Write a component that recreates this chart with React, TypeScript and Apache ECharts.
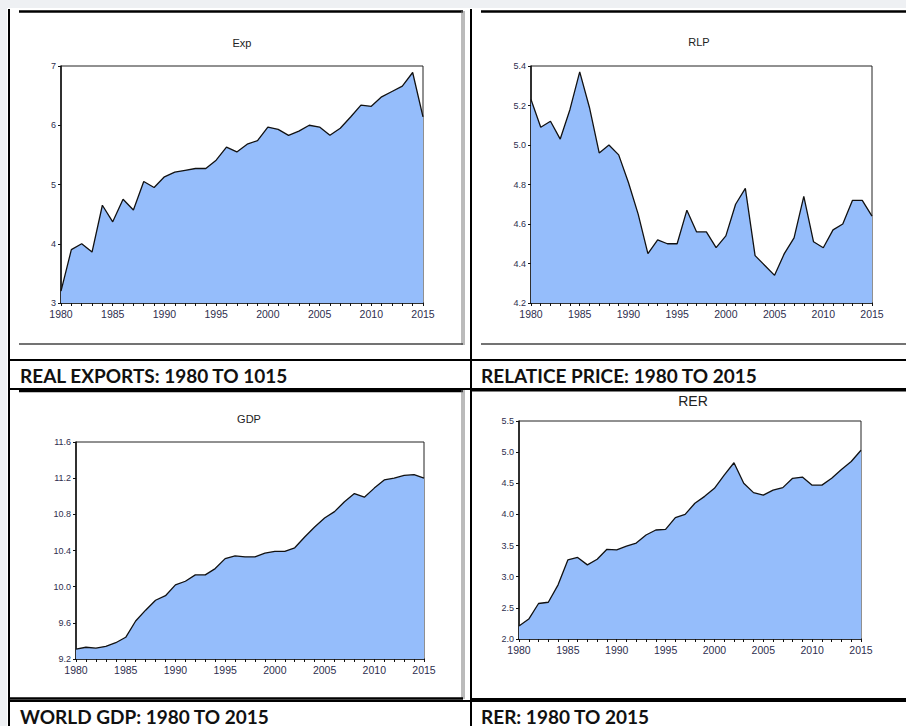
import React, { useEffect, useRef } from "react";
import * as echarts from "echarts";

const years = [
  "1980","1981","1982","1983","1984","1985","1986","1987","1988","1989",
  "1990","1991","1992","1993","1994","1995","1996","1997","1998","1999",
  "2000","2001","2002","2003","2004","2005","2006","2007","2008","2009",
  "2010","2011","2012","2013","2014","2015",
];

const expValues = [
  3.2, 3.9, 4.0, 3.86, 4.65, 4.37, 4.75, 4.57, 5.05, 4.95,
  5.13, 5.21, 5.24, 5.27, 5.27, 5.41, 5.63, 5.55, 5.68, 5.74,
  5.97, 5.93, 5.83, 5.9, 6.0, 5.97, 5.83, 5.95, 6.14, 6.34,
  6.32, 6.48, 6.57, 6.66, 6.89, 6.14,
];

const rlpValues = [
  5.23, 5.09, 5.12, 5.03, 5.18, 5.37, 5.19, 4.96, 5.0, 4.95,
  4.81, 4.65, 4.45, 4.52, 4.5, 4.5, 4.67, 4.56, 4.56, 4.48,
  4.54, 4.7, 4.78, 4.44, 4.39, 4.34, 4.45, 4.53, 4.74, 4.51,
  4.48, 4.57, 4.6, 4.72, 4.72, 4.64,
];

const gdpValues = [
  9.31, 9.33, 9.32, 9.34, 9.38, 9.44, 9.62, 9.74, 9.85, 9.9,
  10.02, 10.06, 10.13, 10.13, 10.2, 10.31, 10.34, 10.33, 10.33, 10.37,
  10.39, 10.39, 10.43, 10.55, 10.66, 10.76, 10.83, 10.94, 11.03, 10.99,
  11.09, 11.18, 11.2, 11.23, 11.24, 11.2,
];

const rerValues = [
  2.21, 2.32, 2.57, 2.59, 2.87, 3.27, 3.31, 3.19, 3.28, 3.44,
  3.43, 3.49, 3.54, 3.67, 3.75, 3.76, 3.95, 4.0, 4.18, 4.29,
  4.42, 4.63, 4.83, 4.5, 4.35, 4.31, 4.39, 4.43, 4.58, 4.6,
  4.47, 4.47, 4.58, 4.72, 4.85, 5.03,
];

const chartTitles = ["Exp", "RLP", "GDP", "RER"];
const captions = [
  "REAL EXPORTS: 1980 TO 1015",
  "RELATICE PRICE: 1980 TO 2015",
  "WORLD GDP: 1980 TO 2015",
  "RER: 1980 TO 2015",
];

const FILL = "#95bdfb";
const LABEL = "#2e2e4e";
const FONT = "Liberation Sans, Arial, sans-serif";

export default function App() {
  const ref = useRef<HTMLDivElement>(null);

  useEffect(() => {
    if (!ref.current) return;
    const chart = echarts.init(ref.current, undefined, { renderer: "svg" });

    const grids = [
      { left: 61, top: 66, width: 362, height: 237 },
      { left: 531, top: 66, width: 341, height: 237 },
      { left: 76, top: 442, width: 348, height: 217 },
      { left: 519, top: 421, width: 342, height: 218 },
    ];
    const yCfg = [
      { min: 3, max: 7, interval: 1, dec: 0 },
      { min: 4.2, max: 5.4, interval: 0.2, dec: 1 },
      { min: 9.2, max: 11.6, interval: 0.4, dec: 1 },
      { min: 2, max: 5.5, interval: 0.5, dec: 1 },
    ];
    const dataSets = [expValues, rlpValues, gdpValues, rerValues];

    const xAxis = grids.map((_, i) => ({
      type: "category",
      gridIndex: i,
      data: years,
      boundaryGap: false,
      axisLine: { lineStyle: { color: "#111", width: 1.5 } },
      axisTick: { interval: 0, length: 3, lineStyle: { color: "#111" } },
      axisLabel: { interval: 4, fontSize: 10.5, color: LABEL, fontFamily: FONT, margin: 5 },
      splitLine: { show: false },
    }));
    const yAxis = yCfg.map((c, i) => ({
      type: "value",
      gridIndex: i,
      min: c.min,
      max: c.max,
      interval: c.interval,
      axisLine: { show: true, lineStyle: { color: "#111", width: 1.5 } },
      axisTick: { show: true, length: 3, lineStyle: { color: "#111" } },
      axisLabel: {
        fontSize: 9,
        color: LABEL,
        fontFamily: FONT,
        margin: 5,
        formatter: (v: number) => v.toFixed(c.dec),
      },
      splitLine: { show: false },
    }));
    const series = dataSets.map((d, i) => ({
      type: "line",
      xAxisIndex: i,
      yAxisIndex: i,
      data: d,
      symbol: "none",
      lineStyle: { color: "#111", width: 1.3 },
      areaStyle: { color: FILL, opacity: 1, origin: "start" },
    }));

    const black = "#000";
    const L = (x1: number, y1: number, x2: number, y2: number, w: number, c: string) => ({
      type: "line",
      shape: { x1, y1, x2, y2 },
      style: { stroke: c, lineWidth: w },
      silent: true,
    });

    const titlePos = [
      { x: 242, y: 43, size: 11 },
      { x: 699, y: 42, size: 11 },
      { x: 249, y: 419, size: 11 },
      { x: 693, y: 401, size: 14 },
    ];
    const capPos = [
      { x: 20, y: 375 },
      { x: 481, y: 375 },
      { x: 20, y: 716 },
      { x: 481, y: 716 },
    ];

    const graphic: any[] = [
      { type: "rect", shape: { x: 0, y: 0, width: 906, height: 8 }, style: { fill: "#eef0f3" }, silent: true },
      { type: "rect", shape: { x: 0, y: 0, width: 7, height: 726 }, style: { fill: "#eef0f3" }, silent: true },
      // table lines
      L(9, 9, 9, 726, 2, black),
      L(471, 9, 471, 726, 2, black),
      L(9, 360, 906, 360, 2, black),
      L(9, 389, 906, 389, 2, black),
      L(9, 701, 906, 701, 2, black),
      // image frames top-left
      L(19, 11.5, 463, 11.5, 2.5, black),
      L(462, 11, 462, 345, 1, "#777"),
      L(464, 11, 464, 345, 1, "#777"),
      L(19, 344, 463, 344, 1.5, "#444"),
      // top-right
      L(481, 11.5, 906, 11.5, 2.5, black),
      L(481, 344, 906, 344, 1.5, "#444"),
      // bottom-left
      L(19, 391, 463, 391, 2.5, black),
      L(462, 390, 462, 699, 1, "#777"),
      L(464, 390, 464, 699, 1, "#777"),
      L(9, 698.5, 463, 698.5, 2.5, black),
      // bottom-right
      L(471, 390.5, 906, 390.5, 2, black),
      L(471, 699, 906, 699, 2, black),
    ];
    chartTitles.forEach((t, i) => {
      graphic.push({
        type: "text",
        x: titlePos[i].x,
        y: titlePos[i].y,
        style: {
          text: t,
          fill: "#222",
          font: `${titlePos[i].size}px ${FONT}`,
          align: "center",
          verticalAlign: "middle",
        },
        silent: true,
      });
    });
    captions.forEach((t, i) => {
      graphic.push({
        type: "text",
        x: capPos[i].x,
        y: capPos[i].y,
        style: {
          text: t,
          fill: "#111",
          font: `bold 19px Lato, sans-serif`,
          align: "left",
          verticalAlign: "middle",
        },
        silent: true,
      });
    });

    chart.setOption({
      animation: false,
      backgroundColor: "#ffffff",
      grid: grids.map((g) => ({ ...g, show: true, borderColor: "#222", borderWidth: 1, backgroundColor: "transparent" })),
      xAxis,
      yAxis,
      series,
      graphic,
    });

    return () => chart.dispose();
  }, []);

  return (
    <div
      ref={ref}
      style={{ position: "absolute", left: 0, top: 0, width: 906, height: 726 }}
    />
  );
}
